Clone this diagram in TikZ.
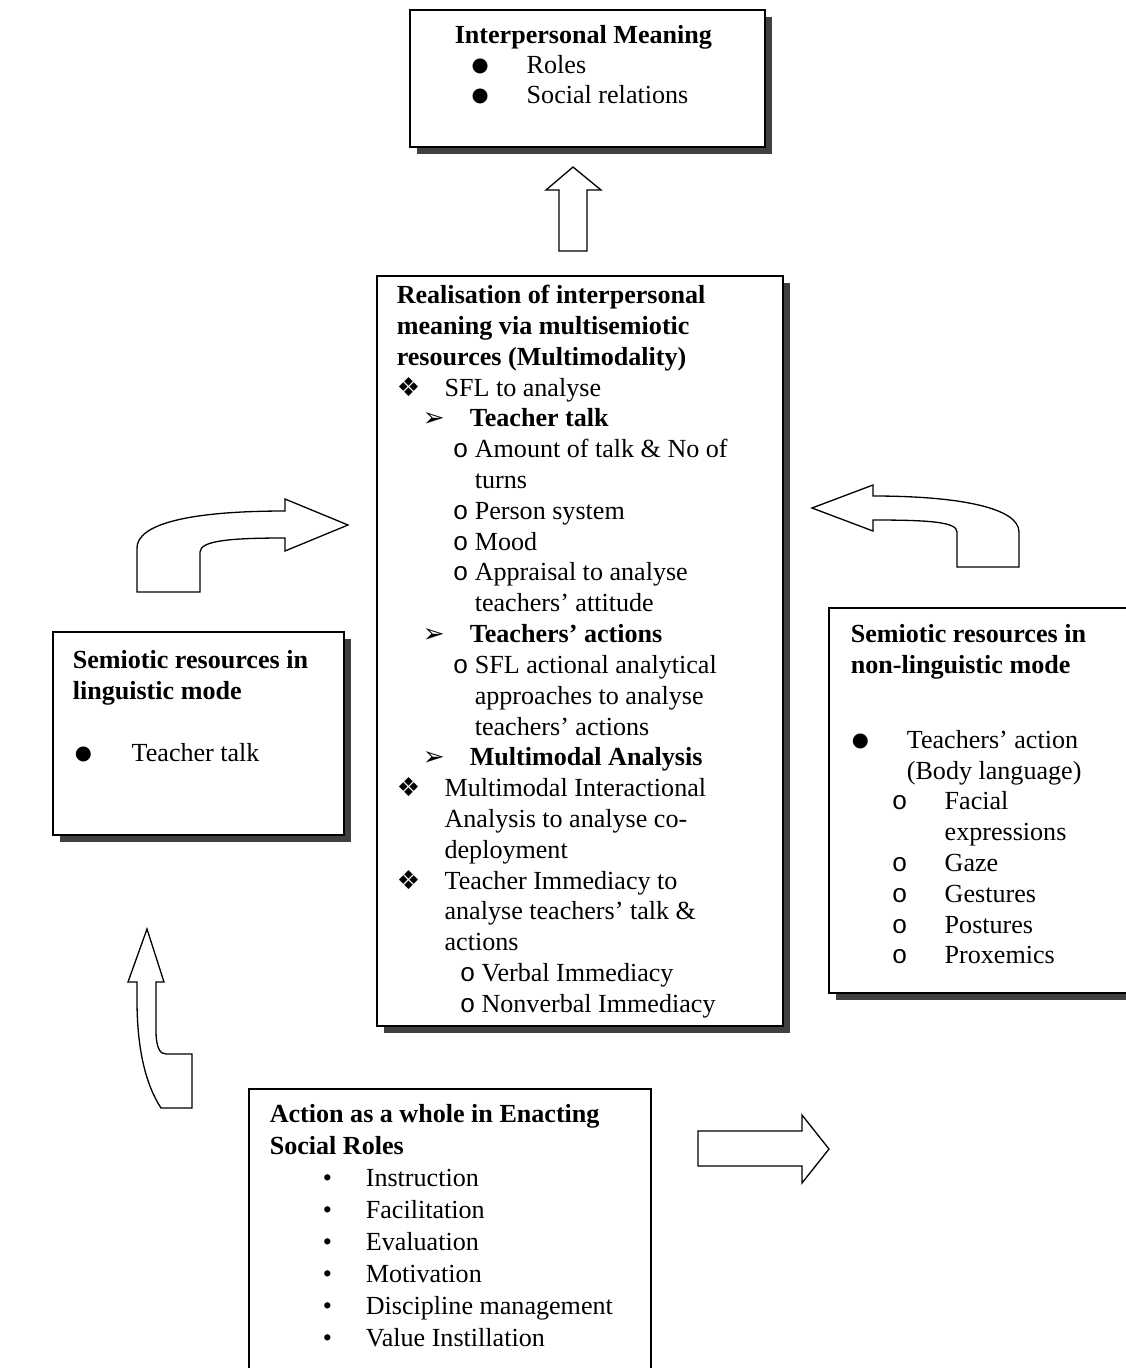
\documentclass[tikz,border=0pt]{standalone}
\usepackage{fontspec}
\setmainfont{Liberation Serif}
\newfontfamily\symfont{DejaVu Sans}
\newfontfamily\bulletmono{Liberation Mono}
\usepackage{tikz}
\usetikzlibrary{calc,fit,shadows}
\def\drawarrow{\draw[line width=0.6pt,fill=white,line join=miter]}
\newcommand{\lineitem}[3]{\hspace*{#1}\makebox[#2][l]{#3}}
\newcommand{\bigbullet}{\raisebox{0.8pt}{\symfont\fontsize{9}{9}\selectfont ●}}
\newcommand{\diaitem}{\lineitem{0pt}{22pt}{\symfont ❖}}
\newcommand{\arritem}{\lineitem{12pt}{21.6pt}{\symfont ➢}}
\newcommand{\oitem}{\lineitem{25.8pt}{10.1pt}{\bulletmono o}}

\begin{document}
\begin{tikzpicture}[x=0.46pt,y=-0.46pt,
  box/.style={draw=black,line width=0.6pt,fill=white,inner sep=0pt,
    drop shadow={shadow xshift=3pt,shadow yshift=-3pt,fill=black!75,opacity=1}},
  plainbox/.style={draw=black,line width=0.6pt,fill=white,inner sep=0pt},
  txt/.style={anchor=north west,inner sep=0pt,align=left,font=\fontsize{12}{14.17}\selectfont}]
\fill[white] (0,0) rectangle (1126,1368);
\useasboundingbox (0,0) rectangle (1126,1368);

% the five boxes (coordinates in pixels of the page)
\node[box, fit={(410,10) (765,147)}] (topbox) {};
\node[box, fit={(377,276) (783,1026)}] (midbox) {};
\node[box, fit={(53,632) (344,835)}] (leftbox) {};
\node[box, fit={(829,608) (1140,993)}] (rightbox) {};
\node[plainbox, fit={(249,1089) (651,1400)}] (botbox) {};

\node[txt, font=\fontsize{12}{13.8}\selectfont] (toptext) at ($ (topbox.north west) + (45,12.4) $) {%
\strut\textbf{Interpersonal Meaning}\\
\lineitem{7.8pt}{25.3pt}{\bigbullet}Roles\\
\lineitem{7.8pt}{25.3pt}{\bigbullet}Social relations};

\node[txt] (midtext) at ($ (midbox.north west) + (20,6.4) $) {%
\strut\textbf{Realisation of interpersonal}\\
\textbf{meaning via multisemiotic}\\
\textbf{resources (Multimodality)}\\
\diaitem SFL to analyse\\
\arritem\textbf{Teacher talk}\\
\oitem Amount of talk \& No of\\
\hspace*{35.9pt}turns\\
\oitem Person system\\
\oitem Mood\\
\oitem Appraisal to analyse\\
\hspace*{35.9pt}teachers’ attitude\\
\arritem\textbf{Teachers’ actions}\\
\oitem SFL actional analytical\\
\hspace*{35.9pt}approaches to analyse\\
\hspace*{35.9pt}teachers’ actions\\
\arritem\textbf{Multimodal Analysis}\\
\diaitem Multimodal Interactional\\
\hspace*{22pt}Analysis to analyse co-\\
\hspace*{22pt}deployment\\
\diaitem Teacher Immediacy to\\
\hspace*{22pt}analyse teachers’ talk \&\\
\hspace*{22pt}actions\\
\lineitem{29pt}{10pt}{\bulletmono o}Verbal Immediacy\\
\lineitem{29pt}{10pt}{\bulletmono o}Nonverbal Immediacy};

\node[txt] (lefttext) at ($ (leftbox.north west) + (20,15.4) $) {%
\strut\textbf{Semiotic resources in}\\
\textbf{linguistic mode}\\
\\
\lineitem{1pt}{26.1pt}{\bigbullet}Teacher talk};

\node[txt] (righttext) at ($ (rightbox.north west) + (22,13.4) $) {%
\strut\textbf{Semiotic resources in}\\
\textbf{non-linguistic mode}\\
\\[6pt]
\lineitem{0.5pt}{25.3pt}{\bigbullet}Teachers’ action\\
\hspace*{25.8pt}(Body language)\\
\lineitem{18.9pt}{24.3pt}{\bulletmono o}Facial\\
\hspace*{43.2pt}expressions\\
\lineitem{18.9pt}{24.3pt}{\bulletmono o}Gaze\\
\lineitem{18.9pt}{24.3pt}{\bulletmono o}Gestures\\
\lineitem{18.9pt}{24.3pt}{\bulletmono o}Postures\\
\lineitem{18.9pt}{24.3pt}{\bulletmono o}Proxemics};

\node[txt, font=\fontsize{12}{14.7}\selectfont] (bottext) at ($ (botbox.north west) + (21,11.6) $) {%
\strut\textbf{Action as a whole in Enacting}\\
\textbf{Social Roles}\\
\lineitem{24.4pt}{19.8pt}{•}Instruction\\
\lineitem{24.4pt}{19.8pt}{•}Facilitation\\
\lineitem{24.4pt}{19.8pt}{•}Evaluation\\
\lineitem{24.4pt}{19.8pt}{•}Motivation\\
\lineitem{24.4pt}{19.8pt}{•}Discipline management\\
\lineitem{24.4pt}{19.8pt}{•}Value Instillation};

% block arrows
\drawarrow (559,251) -- (559,190) -- (546,190) -- (573,167) -- (601,190) -- (587,190) -- (587,251) -- cycle;
\drawarrow (137,592) -- (137,548) .. controls (137,525) and (185,511) .. (285,511) -- (285,499) -- (348,525)
  -- (285,551) -- (285,538) .. controls (235,538) and (200,540) .. (200,552) -- (200,592) -- cycle;
\drawarrow (873,496) .. controls (960,496) and (1019,508) .. (1019,532) -- (1019,567) -- (957,567) -- (957,532)
  .. controls (957,522) and (930,520) .. (873,520) -- (873,531) -- (812,508) -- (873,485) -- cycle;
\drawarrow (161,1108) .. controls (146,1085) and (137,1050) .. (137,1000) -- (137,982) -- (128,982) -- (147,929)
  -- (164,982) -- (156,982) -- (156,1030) .. controls (156,1048) and (160,1054) .. (166,1054) -- (192,1054)
  -- (192,1108) -- cycle;
\drawarrow (698,1131) -- (802,1131) -- (802,1115) -- (829,1149) -- (802,1183) -- (802,1166) -- (698,1166) -- cycle;
\end{tikzpicture}
\end{document}
